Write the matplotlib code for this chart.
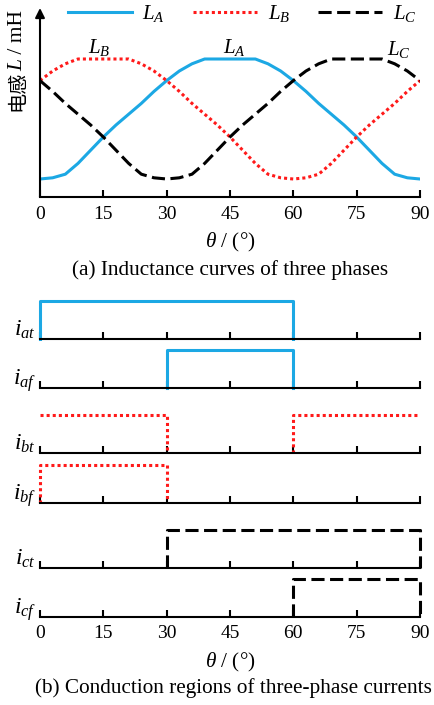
import numpy as np
import matplotlib
matplotlib.use('Agg')
import matplotlib.pyplot as plt

plt.rcParams['font.family'] = ['Liberation Serif', 'Noto Sans CJK SC']
plt.rcParams['mathtext.fontset'] = 'custom'
plt.rcParams['mathtext.rm'] = 'Liberation Serif'
plt.rcParams['mathtext.it'] = 'Liberation Serif:italic'
plt.rcParams['font.size'] = 14

# inductance curves (0 = min, 1 = max)
theta = np.arange(0, 91, 3)
LA = [0.00, 0.01, 0.04, 0.13, 0.24, 0.35, 0.45, 0.54, 0.63, 0.73, 0.82,
      0.90, 0.96, 1.00, 1.00, 1.00, 1.00, 1.00, 0.96, 0.90, 0.82, 0.73,
      0.63, 0.54, 0.45, 0.35, 0.24, 0.13, 0.04, 0.01, 0.00]
LB = [0.82, 0.90, 0.96, 1.00, 1.00, 1.00, 1.00, 1.00, 0.96, 0.90, 0.82,
      0.73, 0.63, 0.54, 0.45, 0.35, 0.24, 0.13, 0.04, 0.01, 0.00, 0.01,
      0.04, 0.13, 0.24, 0.35, 0.45, 0.54, 0.63, 0.73, 0.82]
LC = [0.82, 0.73, 0.63, 0.54, 0.45, 0.35, 0.24, 0.13, 0.04, 0.01, 0.00,
      0.01, 0.04, 0.13, 0.24, 0.35, 0.45, 0.54, 0.63, 0.73, 0.82, 0.90,
      0.96, 1.00, 1.00, 1.00, 1.00, 1.00, 0.96, 0.90, 0.82]
ticks = [0, 15, 30, 45, 60, 75, 90]

# conduction intervals in degrees
rows = ['at', 'af', 'bt', 'bf', 'ct', 'cf']
intervals = {
    'at': [(0, 60)],
    'af': [(30, 60)],
    'bt': [(0, 30), (60, 90)],
    'bf': [(0, 30)],
    'ct': [(30, 90)],
    'cf': [(60, 90)],
}
open_rows = ['bt']  # periodic, no edge at 0 / 90

blue = '#1ca8e4'
red = '#ff1a1a'
style = {
    'a': dict(color=blue, lw=2.2, ls='-'),
    'b': dict(color=red, lw=2.2, ls=(0, (1, 1))),
    'c': dict(color='black', lw=2.2, ls=(0, (4.3, 1.8))),
}

W, H = 434, 705
fig = plt.figure(figsize=(W / 100, H / 100), dpi=100)

def fx(x):
    return x / W

def fy(y):
    return 1 - y / H

# ---- (a) inductance curves
ax = fig.add_axes([fx(40), fy(197), 380 / W, 189 / H])
la, = ax.plot(theta, LA, **style['a'], label='$L_A$')
lb, = ax.plot(theta, LB, **style['b'], label='$L_B$')
lc, = ax.plot(theta, LC, **style['c'], label='$L_C$')
ax.set_xlim(0, 90)
ax.set_ylim(-0.15, 1.425)
for s in ['top', 'right', 'left']:
    ax.spines[s].set_visible(False)
ax.spines['bottom'].set_linewidth(1.5)
ax.set_yticks([])
ax.set_xticks(ticks)
ax.tick_params(axis='x', direction='in', length=5, width=1.5, pad=6.5, labelsize=14)
ax.annotate('', xy=(0, 1), xytext=(0, 0), xycoords='axes fraction',
            arrowprops=dict(arrowstyle='-|>', color='k', lw=1.5,
                            mutation_scale=14, shrinkA=0, shrinkB=0))
ax.text(14, 1.1, '$L_B$', ha='center', va='center', fontsize=15)
ax.text(46, 1.1, '$L_A$', ha='center', va='center', fontsize=15)
ax.text(85, 1.075, '$L_C$', ha='center', va='center', fontsize=15)
ax.legend(handles=[la, lb, lc], loc='upper left', bbox_to_anchor=(fx(68), fy(3)),
          bbox_transform=fig.transFigure, ncol=3, frameon=False,
          handlelength=3.07, handletextpad=0.5, columnspacing=1.35,
          borderpad=0, borderaxespad=0, fontsize=15)

# y label made of pieces (CJK + italic L)
r = fig.canvas.get_renderer()
t1 = fig.text(fx(18), fy(111), '电感', rotation=90, ha='center', va='bottom',
              family=['Noto Sans CJK SC'], fontsize=14.5)
y1 = t1.get_window_extent(r).y1
t2 = fig.text(fx(18), y1 / H, 'L', rotation=90, ha='center', va='bottom',
              style='italic', fontsize=15.5)
y2 = t2.get_window_extent(r).y1
fig.text(fx(18), y2 / H, ' / mH', rotation=90, ha='center', va='bottom', fontsize=15.5)

fig.text(fx(230), fy(242), r'$\theta$ / (°)', ha='center', va='center', fontsize=15.3)
fig.text(fx(230), fy(270), '(a) Inductance curves of three phases',
         ha='center', va='center', fontsize=15.3)

# ---- (b) conduction regions
baselines = [339, 388, 453, 503, 568, 617]
unit = 38
for k, name in enumerate(rows):
    b = baselines[k]
    axb = fig.add_axes([fx(40), fy(b), 380 / W, 1.25 * unit / H])
    for (a0, a1) in intervals[name]:
        xs = [a0, a0, a1, a1]
        ys = [0, 1, 1, 0]
        if name in open_rows and a0 == 0:
            xs, ys = xs[1:], ys[1:]
        if name in open_rows and a1 == 90:
            xs, ys = xs[:-1], ys[:-1]
        axb.plot(xs, ys, clip_on=False, **style[name[0]])
    axb.set_xlim(0, 90)
    axb.set_ylim(0, 1.25)
    for s in ['top', 'right', 'left']:
        axb.spines[s].set_visible(False)
    axb.spines['bottom'].set_linewidth(1.5)
    axb.set_yticks([])
    axb.set_xticks(ticks)
    axb.tick_params(axis='x', direction='in', length=5, width=1.5, pad=6,
                    labelsize=14, labelbottom=(k == len(rows) - 1))
    fig.text(fx(36), fy(b - 3), '$i_{%s}$' % name, ha='right', va='baseline',
             fontsize=17)

fig.text(fx(230), fy(662), r'$\theta$ / (°)', ha='center', va='center', fontsize=15.3)
fig.text(fx(35), fy(688), '(b) Conduction regions of three-phase currents',
         ha='left', va='center', fontsize=15.3)

fig.savefig('out.png', dpi=100)
